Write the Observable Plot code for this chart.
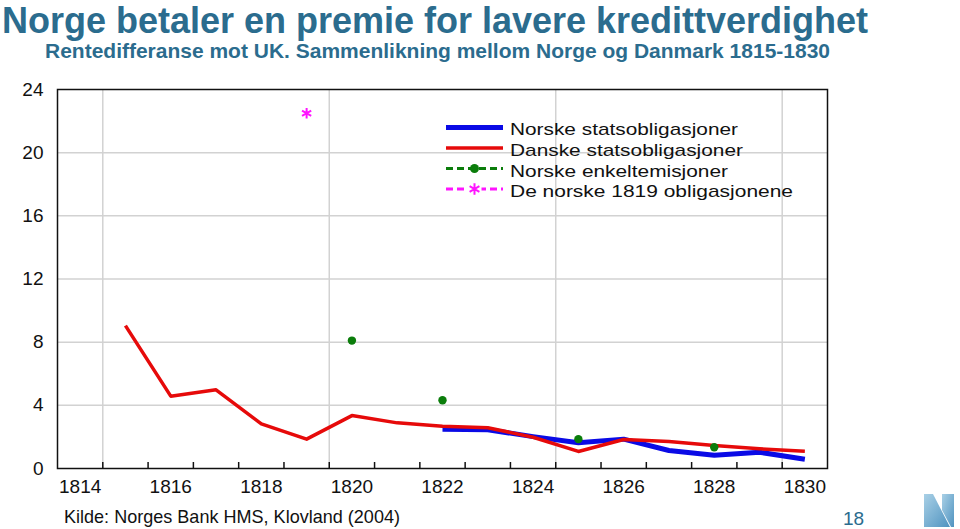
<!DOCTYPE html>
<html>
<head>
<meta charset="utf-8">
<script src="https://cdn.jsdelivr.net/npm/d3@7"></script>
<script src="https://cdn.jsdelivr.net/npm/@observablehq/plot@0.6"></script>
<style>
  html, body { margin: 0; padding: 0; background: #fff; }
  #wrap { position: relative; width: 960px; height: 529px; overflow: hidden; font-family: "Liberation Sans", Arial, sans-serif; }
  #chart { position: absolute; left: 0; top: 70px; }
  #overlay { position: absolute; left: 0; top: 0; pointer-events: none; }
</style>
</head>
<body>
<div id="wrap">
  <div id="chart"></div>
  <svg id="overlay" width="960" height="529"></svg>
</div>
<script>
// ---------- data ----------
const danskeYears = [1815,1816,1817,1818,1819,1820,1821,1822,1823,1824,1825,1826,1827,1828,1829,1830];
const danskeValues = [9.05,4.58,4.98,2.83,1.86,3.35,2.89,2.68,2.58,1.98,1.08,1.84,1.71,1.46,1.25,1.10];
const norskeYears = [1822,1823,1824,1825,1826,1827,1828,1829,1830];
const norskeValues = [2.49,2.45,2.02,1.63,1.86,1.14,0.84,1.03,0.59];
const enkeltYears = [1820,1822,1825,1828];
const enkeltValues = [8.1,4.32,1.86,1.35];
const obl1819Years = [1819];
const obl1819Values = [22.5];
const xTickLabels = [1814,1816,1818,1820,1822,1824,1826,1828,1830];
const yTickLabels = [0,4,8,12,16,20,24];
const yGrid = [4,8,12,16,20];
const xBandEdges = [1814.5,1815.5,1816.5,1817.5,1818.5,1819.5,1820.5,1821.5,1822.5,1823.5,1824.5,1825.5,1826.5,1827.5,1828.5,1829.5];
const xGrid = [1814.5,1819.5,1824.5,1829.5];
const seriesNames = ["Norske statsobligasjoner","Danske statsobligasjoner","Norske enkeltemisjoner","De norske 1819 obligasjonene"];

const toRows = (xs, ys) => xs.map((x, i) => ({year: x, value: ys[i]}));
const danske = toRows(danskeYears, danskeValues);
const norske = toRows(norskeYears, norskeValues);
const enkelt = toRows(enkeltYears, enkeltValues);
const obl1819 = toRows(obl1819Years, obl1819Values);

const BLUE = "#0a0ae6", RED = "#e60a0a", GREEN = "#0b7d0b", MAGENTA = "#ff14ff";
const TEAL = "#2b6c8e";

const H = 430, MT = 19, MB = 32;
const innerH = H - MT - MB;

const chart = Plot.plot({
  width: 960,
  height: H,
  marginLeft: 57,
  marginRight: 133,
  marginTop: MT,
  marginBottom: MB,
  style: {fontFamily: "'Liberation Sans', Arial, sans-serif", fontSize: "19px", color: "#111", background: "#fff"},
  x: {domain: [1813.5, 1830.5], axis: null, label: null},
  y: {domain: [0, 24], axis: null, label: null},
  marks: [
    Plot.ruleY(yGrid, {stroke: "#d2d2d2", strokeWidth: 1.5}),
    Plot.ruleX(xGrid, {stroke: "#d2d2d2", strokeWidth: 1.5}),
    Plot.ruleX(xBandEdges, {x: d => d, stroke: "#111", strokeWidth: 1.5, insetTop: innerH - 6}),
    Plot.axisY({ticks: yTickLabels, tickSize: 0, tickPadding: 14, tickFormat: d => String(d), fontSize: 19, label: null}),
    Plot.axisX({ticks: xTickLabels, tickSize: 0, tickPadding: 11, tickFormat: d => String(d), fontSize: 19, label: null}),
    Plot.line(norske, {x: "year", y: "value", stroke: BLUE, strokeWidth: 5, strokeLinecap: "butt", strokeLinejoin: "round"}),
    Plot.line(danske, {x: "year", y: "value", stroke: RED, strokeWidth: 3.5, strokeLinecap: "butt", strokeLinejoin: "round"}),
    Plot.dot(enkelt, {x: "year", y: "value", r: 4.2, fill: GREEN, stroke: "none"}),
    Plot.dot(obl1819, {x: "year", y: "value", r: 5, symbol: "asterisk", stroke: MAGENTA, strokeWidth: 2}),
    Plot.frame({stroke: "#111", strokeWidth: 1.5})
  ]
});
document.getElementById("chart").appendChild(chart);

// ---------- overlay: titles, legend, caption, logo ----------
const ov = d3.select("#overlay");
const FONT = "'Liberation Sans', Arial, sans-serif";
function txt(s, x, y, size, opts = {}) {
  const t = ov.append("text").attr("x", x).attr("y", y).text(s)
    .attr("font-family", FONT).attr("font-size", size)
    .attr("fill", opts.fill || "#111")
    .attr("font-weight", opts.weight || "normal");
  if (opts.len) t.attr("textLength", opts.len).attr("lengthAdjust", "spacingAndGlyphs");
  return t;
}
txt("Norge betaler en premie for lavere kredittverdighet", 2, 32.5, 36, {fill: TEAL, weight: "bold", len: 866});
txt("Rentedifferanse mot UK. Sammenlikning mellom Norge og Danmark 1815-1830", 45, 57.5, 20.5, {fill: TEAL, weight: "bold", len: 785});
txt("Kilde: Norges Bank HMS, Klovland (2004)", 64, 523, 19, {len: 336});
txt("18", 843, 525, 19, {fill: TEAL});

// legend
const lx0 = 446, lx1 = 503, tx = 510;
const rowsY = [127.5, 148, 168.5, 189];
const baseY = [135, 156, 176.5, 197];
const lens = [228, 233, 218, 283];
ov.append("line").attr("x1", lx0).attr("x2", lx1).attr("y1", rowsY[0]).attr("y2", rowsY[0]).attr("stroke", BLUE).attr("stroke-width", 5);
ov.append("line").attr("x1", lx0).attr("x2", lx1).attr("y1", rowsY[1]).attr("y2", rowsY[1]).attr("stroke", RED).attr("stroke-width", 3.5);
ov.append("line").attr("x1", lx0).attr("x2", lx1).attr("y1", rowsY[2]).attr("y2", rowsY[2]).attr("stroke", GREEN).attr("stroke-width", 3).attr("stroke-dasharray", "7,4");
ov.append("circle").attr("cx", (lx0 + lx1) / 2).attr("cy", rowsY[2]).attr("r", 4.5).attr("fill", GREEN);
ov.append("line").attr("x1", lx0).attr("x2", lx1).attr("y1", rowsY[3]).attr("y2", rowsY[3]).attr("stroke", MAGENTA).attr("stroke-width", 3).attr("stroke-dasharray", "7,4");
ov.append("rect").attr("x", (lx0 + lx1) / 2 - 7).attr("y", rowsY[3] - 4).attr("width", 14).attr("height", 8).attr("fill", "#fff");
ov.append("path").attr("transform", `translate(${(lx0 + lx1) / 2},${rowsY[3]})`)
  .attr("d", d3.symbol(d3.symbolAsterisk, 90)()).attr("stroke", MAGENTA).attr("stroke-width", 2).attr("fill", "none");
seriesNames.forEach((s, i) => txt(s, tx, baseY[i], 17, {len: lens[i]}));

// logo
const defs = ov.append("defs");
const g = defs.append("linearGradient").attr("id", "lg").attr("x1", 0).attr("x2", 1).attr("y1", 0).attr("y2", 1);
g.append("stop").attr("offset", "0%").attr("stop-color", "#a9d0e6");
g.append("stop").attr("offset", "100%").attr("stop-color", "#4f93c0");
ov.append("path").attr("d", "M924,494 L933,494 L950,527 L924,527 Z").attr("fill", "url(#lg)");
ov.append("path").attr("d", "M942,494 L954,494 L954,527 L951,527 L942,510 Z").attr("fill", "url(#lg)");
</script>
</body>
</html>
